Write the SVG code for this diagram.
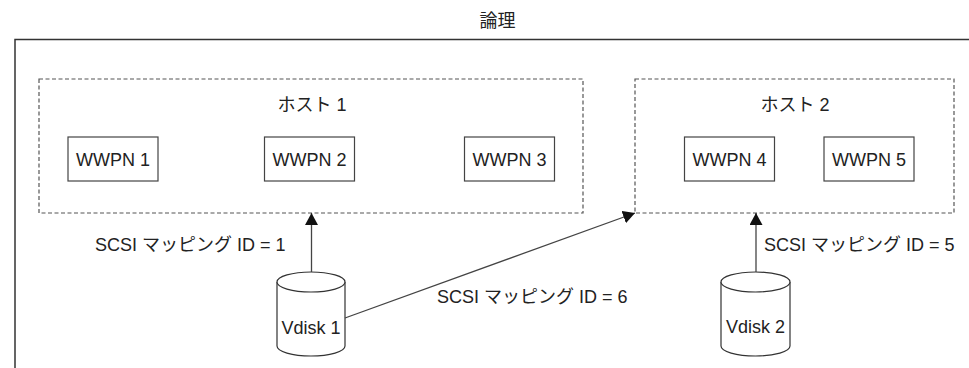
<svg xmlns="http://www.w3.org/2000/svg" width="969" height="368" viewBox="0 0 969 368">
<defs>
<style>
text{font-family:"Liberation Sans","Noto Sans CJK JP",Arial,sans-serif;font-size:18px;fill:#222}
.t{text-anchor:middle}
.host{fill:none;stroke:#555;stroke-width:1.2;stroke-dasharray:4 2.5}
.box{fill:#fff;stroke:#444;stroke-width:1.2}
.cyl{fill:#fff;stroke:#333;stroke-width:1.2}
.conn{fill:none;stroke:#444;stroke-width:1.3}
</style>
<marker id="ah" markerUnits="userSpaceOnUse" markerWidth="12" markerHeight="13" refX="12" refY="6.5" orient="auto">
<path d="M0,0 L12,6.5 L0,13 Z" fill="#111"/>
</marker>
</defs>
<rect width="969" height="368" fill="#fff"/>
<g id="frame">
<path d="M15,368 V39.5 H969" fill="none" stroke="#333" stroke-width="1.5"/>
<text class="t" x="497.5" y="27">論理</text>
</g>
<g id="host1">
<rect class="host" x="39" y="79" width="544" height="134"/>
<text class="t" x="312" y="111">ホスト 1</text>
</g>
<g id="host2">
<rect class="host" x="635" y="79" width="319" height="134"/>
<text class="t" x="795" y="111">ホスト 2</text>
</g>
<g id="wwpn1"><rect class="box" x="68" y="137" width="90" height="44"/><text class="t" x="113" y="166">WWPN 1</text></g>
<g id="wwpn2"><rect class="box" x="264.5" y="137" width="90" height="44"/><text class="t" x="309.5" y="166">WWPN 2</text></g>
<g id="wwpn3"><rect class="box" x="464.5" y="137" width="90" height="44"/><text class="t" x="509.5" y="166">WWPN 3</text></g>
<g id="wwpn4"><rect class="box" x="684.5" y="137" width="90" height="44"/><text class="t" x="729.5" y="166">WWPN 4</text></g>
<g id="wwpn5"><rect class="box" x="824" y="137" width="90" height="44"/><text class="t" x="869" y="166">WWPN 5</text></g>
<g id="vdisk1">
<path class="cyl" d="M277,282 A34,10 0 0 1 345,282 V346 A34,10 0 0 1 277,346 Z"/>
<path class="cyl" d="M277,282 A34,10 0 0 0 345,282" fill="none"/>
<text class="t" x="311" y="334">Vdisk 1</text>
</g>
<g id="vdisk2">
<path class="cyl" d="M721,282 A34.5,10 0 0 1 790,282 V346 A34.5,10 0 0 1 721,346 Z"/>
<path class="cyl" d="M721,282 A34.5,10 0 0 0 790,282" fill="none"/>
<text class="t" x="755.5" y="333">Vdisk 2</text>
</g>
<g id="connectors">
<line class="conn" x1="311.5" y1="272" x2="311.5" y2="213" marker-end="url(#ah)"/>
<line class="conn" x1="345" y1="318" x2="635" y2="213" marker-end="url(#ah)"/>
<line class="conn" x1="756" y1="272" x2="756" y2="213" marker-end="url(#ah)"/>
<text x="95" y="251">SCSI マッピング ID = 1</text>
<text x="437" y="303">SCSI マッピング ID = 6</text>
<text x="764" y="251">SCSI マッピング ID = 5</text>
</g>
</svg>
